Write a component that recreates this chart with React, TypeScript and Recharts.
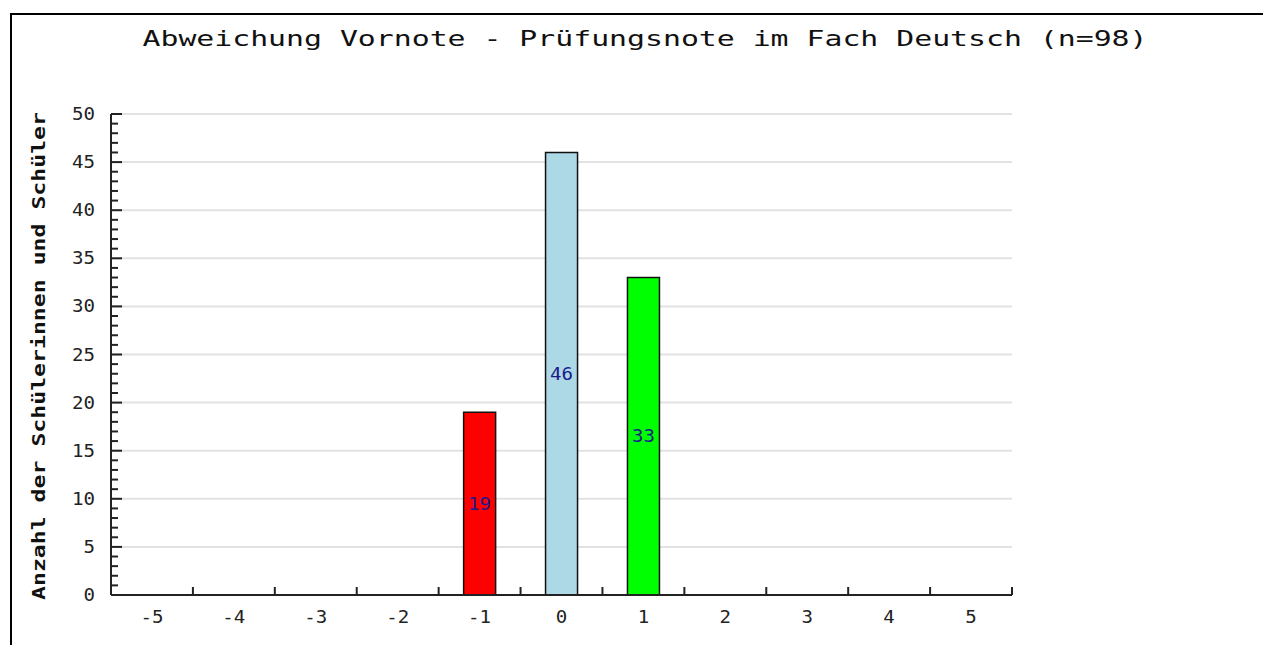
import React from "react";
import { BarChart, Bar, XAxis, YAxis, CartesianGrid, Cell, LabelList } from "recharts";

const categories = ["-5", "-4", "-3", "-2", "-1", "0", "1", "2", "3", "4", "5"];
const counts = [0, 0, 0, 0, 19, 46, 33, 0, 0, 0, 0];
const barColors = ["#ff0000", "#ff0000", "#ff0000", "#ff0000", "#ff0000", "#add8e6", "#00ff00", "#00ff00", "#00ff00", "#00ff00", "#00ff00"];
const yMajorTicks = [0, 5, 10, 15, 20, 25, 30, 35, 40, 45, 50];
const yMinorTicks = [0, 1, 2, 3, 4, 5, 6, 7, 8, 9, 10, 11, 12, 13, 14, 15, 16, 17, 18, 19, 20, 21, 22, 23, 24, 25, 26, 27, 28, 29, 30, 31, 32, 33, 34, 35, 36, 37, 38, 39, 40, 41, 42, 43, 44, 45, 46, 47, 48, 49, 50];
const title = "Abweichung Vornote - Prüfungsnote im Fach Deutsch (n=98)";
const yLabel = "Anzahl der Schülerinnen und Schüler";

const data = categories.map((c, i) => ({ cat: c, count: counts[i] }));

const FONT = "'DejaVu Sans Mono', 'Liberation Mono', monospace";
const AXIS = "#222";
const Y_TICK_MARGIN = 16;

const YTick = (props: any) => {
  const { x, y, payload } = props;
  const v = Number(payload.value);
  const isMajor = yMajorTicks.includes(v);
  const axisX = x + Y_TICK_MARGIN;
  const s = String(v);
  return (
    <g>
      <line x1={axisX} y1={y} x2={axisX + (isMajor ? 11 : 7)} y2={y} stroke={AXIS} strokeWidth={2} />
      {isMajor && (
        <text x={x} y={y} dy={6} textAnchor="end" fontFamily={FONT} fontSize={17} fill="#222"
          textLength={s.length * 11.5} lengthAdjust="spacingAndGlyphs">
          {s}
        </text>
      )}
    </g>
  );
};

const XTick = (props: any) => {
  const { x, y, payload } = props;
  const s = String(payload.value);
  const off = payload.offset || 0;
  return (
    <g>
      <line x1={x + off} y1={y} x2={x + off} y2={y - 8} stroke={AXIS} strokeWidth={2} />
      <text x={x} y={y} dy={28} textAnchor="middle" fontFamily={FONT} fontSize={17} fill="#222"
        textLength={s.length * 11.5} lengthAdjust="spacingAndGlyphs">
        {s}
      </text>
    </g>
  );
};

const BarValue = (props: any) => {
  const { x, y, width, height, value } = props;
  if (!value) return null;
  const s = String(value);
  return (
    <text x={x + width / 2} y={y + height / 2} dy={6} textAnchor="middle" fontFamily={FONT} fontSize={17}
      fill="#1a1a8a" textLength={s.length * 11.5} lengthAdjust="spacingAndGlyphs">
      {s}
    </text>
  );
};

export default function App() {
  return (
    <div style={{ position: "fixed", left: 0, top: 0, width: 1263, height: 645, overflow: "hidden", background: "#fff" }}>
      <div style={{ position: "absolute", left: 10, top: 13, width: 1400, height: 800, borderLeft: "2px solid #000", borderTop: "2px solid #000" }} />
      <div style={{ position: "absolute", left: 0, top: 0 }}>
        <BarChart width={1263} height={645} data={data} margin={{ top: 114, right: 251, bottom: 0, left: 0 }} barSize={32}>
          <CartesianGrid vertical={false} stroke="#e2e2e2" strokeWidth={2} horizontalValues={yMajorTicks} />
          <XAxis dataKey="cat" type="category" height={50} tickLine={false} tickSize={0} tickMargin={0}
            axisLine={{ stroke: AXIS, strokeWidth: 2 }} tick={<XTick />} interval={0} />
          <YAxis domain={[0, 50]} ticks={yMinorTicks} width={111} tickLine={false} tickSize={0}
            tickMargin={Y_TICK_MARGIN} axisLine={{ stroke: AXIS, strokeWidth: 2 }} tick={<YTick />} interval={0} />
          <Bar dataKey="count" stroke="#111" strokeWidth={1.5} isAnimationActive={false}>
            {data.map((d, i) => (
              <Cell key={d.cat} fill={barColors[i]} />
            ))}
            <LabelList dataKey="count" content={<BarValue />} />
          </Bar>
        </BarChart>
      </div>
      <svg width={1263} height={645} style={{ position: "absolute", left: 0, top: 0, pointerEvents: "none" }}>
        <text x={645} y={46} textAnchor="middle" fontFamily={FONT} fontSize={21} fill="#111"
          textLength={1005} lengthAdjust="spacingAndGlyphs">
          {title}
        </text>
        <text x={0} y={0} transform="translate(45 356) rotate(-90)" textAnchor="middle" fontFamily={FONT}
          fontSize={17} fontWeight="bold" fill="#111" textLength={488} lengthAdjust="spacingAndGlyphs">
          {yLabel}
        </text>
      </svg>
    </div>
  );
}
